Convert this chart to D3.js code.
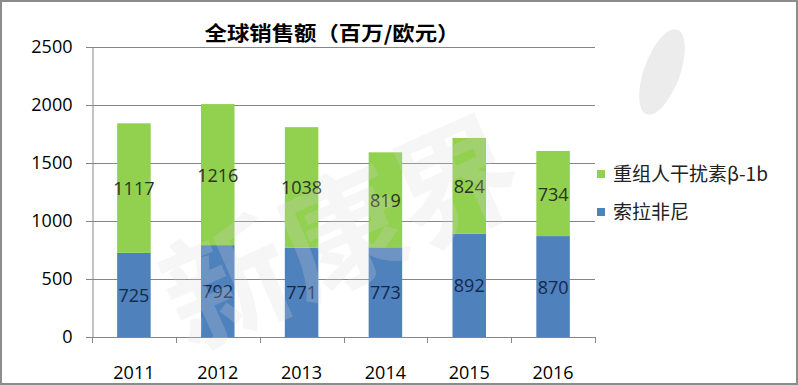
<!DOCTYPE html>
<html>
<head>
<meta charset="utf-8">
<script src="https://cdn.jsdelivr.net/npm/d3@7"></script>
<style>
  html, body { margin: 0; padding: 0; background: #fff; }
  svg text { font-family: "Open Sans", "Noto Sans CJK SC", sans-serif; }
</style>
</head>
<body>
<div id="chart"></div>
<script>
// 数据
const years = ['2011', '2012', '2013', '2014', '2015', '2016'];
const sorafenib = [725, 792, 771, 773, 892, 870];      // 索拉非尼
const interferon = [1117, 1216, 1038, 819, 824, 734];   // 重组人干扰素β-1b
const seriesNames = ['索拉非尼', '重组人干扰素β-1b'];
const yTicks = [0, 500, 1000, 1500, 2000, 2500];
const chartTitle = '全球销售额（百万/欧元）';

const width = 798, height = 385;
const plot = { left: 92, right: 595, top: 47, bottom: 337 };
const colors = ['#4f81bd', '#92d050'];
const labelColors = ['#14284b', '#2b3322'];

const svg = d3.select('#chart').append('svg')
    .attr('width', width)
    .attr('height', height);

// 外框
svg.append('rect')
    .attr('x', 1).attr('y', 1)
    .attr('width', width - 2).attr('height', height - 2)
    .attr('fill', '#fff')
    .attr('stroke', '#8c8c8c')
    .attr('stroke-width', 2);

const x = d3.scaleBand()
    .domain(years)
    .range([plot.left, plot.right])
    .paddingInner(0.6)
    .paddingOuter(0.3);

const y = d3.scaleLinear()
    .domain([0, 2500])
    .range([plot.bottom, plot.top]);

// 网格线
svg.append('g')
    .selectAll('line')
    .data(yTicks)
    .enter()
    .append('line')
    .attr('x1', plot.left - 6)
    .attr('x2', plot.right)
    .attr('y1', d => y(d) + 0.5)
    .attr('y2', d => y(d) + 0.5)
    .attr('stroke', '#868686')
    .attr('stroke-width', 1);

// Y轴
const yAxis = d3.axisLeft(y)
    .tickValues(yTicks)
    .tickFormat(d3.format('d'))
    .tickSize(6)
    .tickPadding(14);
const gy = svg.append('g')
    .attr('transform', `translate(${plot.left + 0.5},0)`)
    .call(yAxis);
gy.selectAll('path, line').attr('stroke', '#868686');
gy.selectAll('text')
    .attr('fill', '#000')
    .style('font-size', '18px')
    .style('font-family', '"Open Sans", sans-serif');

// X轴刻度 (在类别之间)
const bounds = d3.range(years.length + 1).map(i => plot.left + i * (plot.right - plot.left) / years.length);
svg.append('g')
    .selectAll('line')
    .data(bounds)
    .enter()
    .append('line')
    .attr('x1', d => Math.round(d) + 0.5)
    .attr('x2', d => Math.round(d) + 0.5)
    .attr('y1', plot.bottom)
    .attr('y2', plot.bottom + 6)
    .attr('stroke', '#868686');

svg.append('g')
    .selectAll('text')
    .data(years)
    .enter()
    .append('text')
    .attr('x', d => x(d) + x.bandwidth() / 2)
    .attr('y', 379)
    .attr('text-anchor', 'middle')
    .style('font-size', '18px')
    .attr('fill', '#000')
    .text(d => d);

// 堆叠
const rows = years.map((yr, i) => ({ year: yr, s0: sorafenib[i], s1: interferon[i] }));
const stack = d3.stack().keys(['s0', 's1'])(rows);

const layers = svg.append('g')
    .selectAll('g')
    .data(stack)
    .enter()
    .append('g')
    .attr('fill', (d, i) => colors[i]);

layers.selectAll('rect')
    .data(d => d)
    .enter()
    .append('rect')
    .attr('x', d => x(d.data.year))
    .attr('y', d => y(d[1]))
    .attr('width', x.bandwidth())
    .attr('height', d => y(d[0]) - y(d[1]));

// 数据标签
stack.forEach((layer, li) => {
    svg.append('g')
        .selectAll('text')
        .data(layer)
        .enter()
        .append('text')
        .attr('x', d => x(d.data.year) + x.bandwidth() / 2)
        .attr('y', d => (y(d[0]) + y(d[1])) / 2 + 7)
        .attr('text-anchor', 'middle')
        .attr('fill', labelColors[li])
        .style('font-size', '18px')
        .text(d => d[1] - d[0]);
});

// 水印
const wm = svg.append('g')
    .attr('transform', 'translate(360,275) rotate(-24)')
    .attr('opacity', 0.22);
wm.append('text')
    .attr('text-anchor', 'middle')
    .style('font-family', '"Noto Sans CJK SC", sans-serif')
    .style('font-weight', 'bold')
    .style('font-size', '125px')
    .attr('fill', '#d8d8d8')
    .text('新康界');
svg.append('ellipse')
    .attr('cx', 662).attr('cy', 72)
    .attr('rx', 18).attr('ry', 45)
    .attr('transform', 'rotate(20,662,72)')
    .attr('fill', '#ececec');

// 标题
svg.append('text')
    .attr('x', 332)
    .attr('y', 41)
    .attr('text-anchor', 'middle')
    .attr('textLength', 255)
    .attr('lengthAdjust', 'spacingAndGlyphs')
    .style('font-family', '"Noto Sans CJK SC", sans-serif')
    .style('font-weight', 'bold')
    .style('font-size', '20px')
    .attr('fill', '#000')
    .text(chartTitle);

// 图例
const legendItems = [
    { name: seriesNames[1], color: colors[1], cy: 174 },
    { name: seriesNames[0], color: colors[0], cy: 212 }
];
const lg = svg.append('g').selectAll('g')
    .data(legendItems)
    .enter()
    .append('g');
lg.append('rect')
    .attr('x', 597)
    .attr('y', d => d.cy - 4)
    .attr('width', 8)
    .attr('height', 8)
    .attr('fill', d => d.color);
lg.append('text')
    .attr('x', 613)
    .attr('y', d => d.cy + 7)
    .style('font-family', '"Noto Sans CJK SC", sans-serif')
    .style('font-size', '19px')
    .attr('fill', '#222')
    .text(d => d.name);
</script>
</body>
</html>
